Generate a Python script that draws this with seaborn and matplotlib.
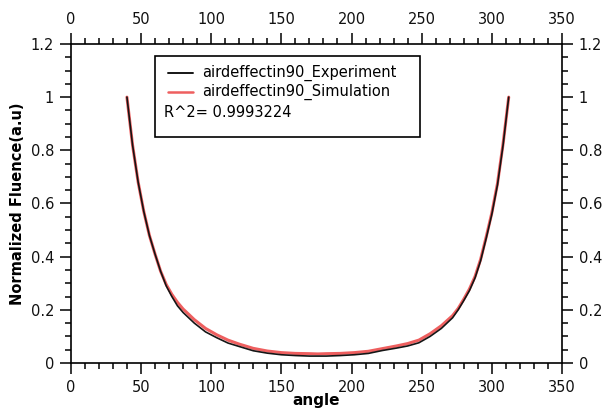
import numpy
import matplotlib
matplotlib.use("Agg")
import matplotlib.pyplot as plt
import seaborn
from matplotlib.patches import Rectangle
from matplotlib.lines import Line2D
from matplotlib.ticker import MultipleLocator, FormatStrFormatter

# angulo e fluencia normalizada
angle = [40, 44, 48, 52, 56, 60, 64, 68, 72, 76, 80, 88, 96, 104, 112, 120, 130, 140, 150, 160,
         170, 176, 182, 192, 202, 212, 222, 232, 240, 248, 256, 264, 272, 276, 280, 284, 288,
         292, 296, 300, 304, 308, 312]
experiment = [1.0, 0.82, 0.68, 0.57, 0.48, 0.41, 0.345, 0.29, 0.25, 0.215, 0.19, 0.15, 0.117,
              0.095, 0.075, 0.062, 0.046, 0.037, 0.031, 0.028, 0.026, 0.026, 0.026, 0.028,
              0.031, 0.036, 0.047, 0.056, 0.064, 0.076, 0.10, 0.13, 0.17, 0.20, 0.235, 0.272,
              0.32, 0.385, 0.47, 0.56, 0.67, 0.82, 1.0]
simulation = [1.0, 0.82, 0.68, 0.57, 0.48, 0.41, 0.345, 0.295, 0.258, 0.228, 0.203, 0.163,
              0.130, 0.106, 0.086, 0.071, 0.055, 0.045, 0.039, 0.036, 0.035, 0.034, 0.035,
              0.036, 0.039, 0.044, 0.054, 0.064, 0.073, 0.086, 0.11, 0.14, 0.178, 0.205, 0.24,
              0.278, 0.325, 0.39, 0.475, 0.565, 0.675, 0.825, 1.0]

label_exp = "airdeffectin90_Experiment"
label_sim = "airdeffectin90_Simulation"
r2_text = "R^2= 0.9993224"

red = "#ee5f5f"

seaborn.set_style("ticks")
plt.rcParams["font.family"] = ["DejaVu Sans"]
plt.rcParams["text.color"] = "black"
plt.rcParams["axes.labelcolor"] = "black"

fig = plt.figure(figsize=(6.05, 4.09), dpi=100)
ax = fig.add_axes([0.117, 0.1125, 0.812, 0.78])

seaborn.lineplot(x=angle, y=simulation, color=red, linewidth=2.2, ax=ax)
seaborn.lineplot(x=angle, y=experiment, color="#151515", linewidth=1.2, ax=ax)

ax.set_xlim(0, 350)
ax.set_ylim(0, 1.2)
ax.xaxis.set_major_locator(MultipleLocator(50))
ax.xaxis.set_minor_locator(MultipleLocator(10))
ax.yaxis.set_major_locator(MultipleLocator(0.2))
ax.yaxis.set_minor_locator(MultipleLocator(0.05))
ax.yaxis.set_major_formatter(FormatStrFormatter("%g"))

for s in ax.spines.values():
    s.set_visible(True)
    s.set_linewidth(1.2)
    s.set_color("black")

ax.tick_params(which="both", direction="out", top=True, right=True,
               labeltop=True, labelright=True, width=1.1, color="black",
               labelcolor="#111111")
ax.tick_params(which="major", length=8, labelsize=10.5, pad=4)
ax.tick_params(which="minor", length=4)

ax.set_xlabel("angle", fontsize=11, fontweight="bold", labelpad=-1)
ax.set_ylabel("Normalized Fluence(a.u)", fontsize=10.5, fontweight="bold", labelpad=4)

# caixa da legenda
ax.add_patch(Rectangle((0.171, 0.708), 0.54, 0.254, transform=ax.transAxes,
                       facecolor="white", edgecolor="black", linewidth=1.2, zorder=5))
ax.add_line(Line2D([0.198, 0.248], [0.909, 0.909], transform=ax.transAxes,
                   color="#151515", linewidth=1.4, zorder=6))
ax.add_line(Line2D([0.198, 0.248], [0.85, 0.85], transform=ax.transAxes,
                   color=red, linewidth=1.8, zorder=6))
ax.text(0.268, 0.909, label_exp, transform=ax.transAxes, fontsize=10.5,
        va="center", ha="left", zorder=6)
ax.text(0.268, 0.85, label_sim, transform=ax.transAxes, fontsize=10.5,
        va="center", ha="left", zorder=6)
ax.text(0.19, 0.786, r2_text, transform=ax.transAxes, fontsize=10.5,
        va="center", ha="left", zorder=6)

fig.savefig("out.png", dpi=100, facecolor="white")
